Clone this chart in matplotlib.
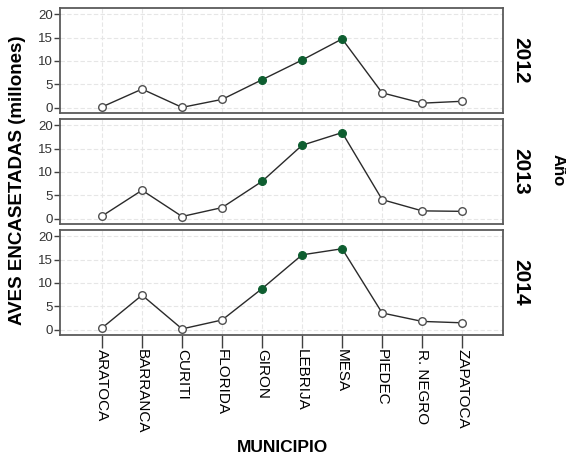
import numpy as np
import matplotlib.pyplot as plt

plt.rcParams['font.family'] = ['Liberation Sans', 'DejaVu Sans']

municipios = ['ARATOCA', 'BARRANCA', 'CURITI', 'FLORIDA', 'GIRON',
              'LEBRIJA', 'MESA', 'PIEDEC', 'R. NEGRO', 'ZAPATOCA']
anios = ['2012', '2013', '2014']
aves_2012 = [0.2, 4.0, 0.1, 1.8, 6.0, 10.2, 14.7, 3.2, 1.0, 1.4]
aves_2013 = [0.6, 6.1, 0.5, 2.4, 8.0, 15.7, 18.4, 4.1, 1.7, 1.6]
aves_2014 = [0.4, 7.4, 0.2, 2.1, 8.8, 16.0, 17.3, 3.6, 1.8, 1.5]
destacados = ['GIRON', 'LEBRIJA', 'MESA']

series = [aves_2012, aves_2013, aves_2014]
x = np.arange(len(municipios))
verde = '#0e5e30'

fig = plt.figure(figsize=(5.66, 4.59), dpi=100)
W, H = 566, 459
left, right = 60, 503
panels = [(8, 113), (119, 224), (230, 335)]

axes = []
for (top, bottom), anio, y in zip(panels, anios, series):
    ax = fig.add_axes([left / W, 1 - bottom / H, (right - left) / W, (bottom - top) / H])
    axes.append(ax)
    y = np.array(y)
    ax.set_xlim(-1.05, 10.02)
    ax.set_ylim(-1.1, 21.3)
    ax.set_yticks([0, 5, 10, 15, 20])
    ax.set_xticks(x)
    ax.grid(True, color='#e6e6e6', linestyle=(0, (4, 2)), linewidth=0.8)
    ax.set_axisbelow(True)
    for s in ax.spines.values():
        s.set_color('#5a5a5a')
        s.set_linewidth(1.3)
    ax.plot(x, y, color='#2a2a2a', lw=1.0, zorder=2)
    mask = np.array([m in destacados for m in municipios])
    ax.scatter(x[~mask], y[~mask], s=30, facecolors='white', edgecolors='#505050',
               linewidths=1.0, zorder=3)
    ax.scatter(x[mask], y[mask], s=32, facecolors=verde, edgecolors=verde,
               linewidths=0.8, zorder=3)
    ax.tick_params(axis='y', length=4, width=1, color='#404040', labelsize=9.5,
                   labelcolor='#333333', pad=1)
    ax.tick_params(axis='x', length=0)
    ax.set_xticklabels([])
    ax.text(1.04, 0.5, anio, transform=ax.transAxes, rotation=-90, fontsize=15,
            fontweight='bold', ha='center', va='center')

ax = axes[-1]
ax.tick_params(axis='x', length=9, width=1, color='#404040', labelsize=11, pad=1)
ax.set_xticklabels(municipios, rotation=-90, va='top', ha='center')

fig.text(18 / W, 1 - 180 / H, 'AVES ENCASETADAS (millones)', rotation=90,
         fontsize=13.5, fontweight='bold', ha='center', va='center')
fig.text(283 / W, 1 - 448 / H, 'MUNICIPIO', fontsize=12.5, fontweight='bold',
         ha='center', va='center')
fig.text(558 / W, 1 - 170 / H, 'Año', rotation=-90, fontsize=12,
         fontweight='bold', ha='center', va='center')

fig.savefig('out.png', dpi=100)
